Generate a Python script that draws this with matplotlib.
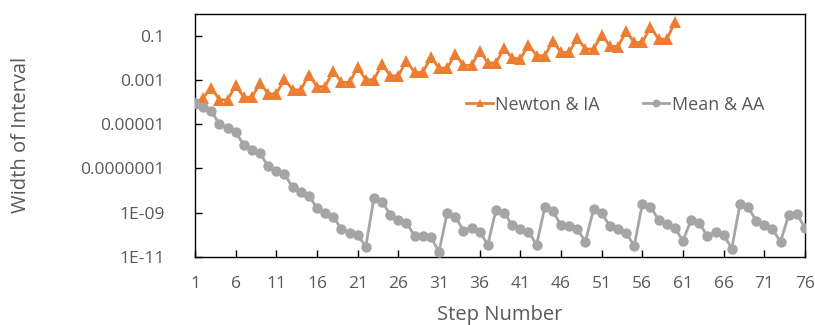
import matplotlib
matplotlib.use("Agg")
import matplotlib.pyplot as plt
from matplotlib.ticker import FixedLocator, FixedFormatter, NullLocator
import numpy as np

plt.rcParams['font.family'] = ['Open Sans', 'DejaVu Sans']

steps_newton = list(range(1, 61))
newton_log = [-4.05, -3.80, -3.34, -3.89, -3.89, -3.24, -3.77, -3.77, -3.13, -3.62,
              -3.62, -2.94, -3.44, -3.44, -2.76, -3.29, -3.29, -2.57, -3.10, -3.10,
              -2.42, -2.98, -2.98, -2.27, -2.80, -2.80, -2.12, -2.65, -2.65, -1.97,
              -2.45, -2.45, -1.82, -2.33, -2.33, -1.67, -2.22, -2.22, -1.54, -2.00,
              -2.04, -1.39, -1.89, -1.89, -1.24, -1.74, -1.74, -1.09, -1.59, -1.59,
              -0.94, -1.45, -1.48, -0.79, -1.29, -1.29, -0.59, -1.14, -1.14, -0.38]
newton_vals = [10 ** v for v in newton_log]

steps_mean = list(range(1, 77))
mean_log = [-4.04, -4.22, -4.39, -4.99, -5.17, -5.35, -5.93, -6.16, -6.31, -6.91,
            -7.10, -7.25, -7.85, -8.05, -8.23, -8.80, -9.03, -9.18, -9.75, -9.91,
            -10.01, -10.54, -8.35, -8.50, -9.10, -9.33, -9.45, -10.06, -10.06, -10.12,
            -10.77, -9.03, -9.18, -9.82, -9.71, -9.86, -10.46, -8.88, -9.00, -9.56,
            -9.74, -9.86, -10.46, -8.77, -8.95, -9.56, -9.63, -9.75, -10.32, -8.85,
            -9.03, -9.60, -9.75, -9.93, -10.51, -8.61, -8.73, -9.33, -9.53, -9.71,
            -10.27, -9.33, -9.48, -10.06, -9.86, -10.01, -10.63, -8.62, -8.76, -9.36,
            -9.56, -9.75, -10.32, -9.10, -9.06, -9.71]
mean_vals = [10 ** v for v in mean_log]

x_ticks = list(range(1, 77, 5))
y_ticks = [1e-11, 1e-9, 1e-7, 1e-5, 1e-3, 1e-1]
y_tick_labels = ['1E-11', '1E-09', '0.0000001', '0.00001', '0.001', '0.1']

ORANGE = '#ED7D31'
GRAY = '#A5A5A5'
TXT = '#595959'

fig = plt.figure(figsize=(8.15, 3.25), dpi=100)
ax = fig.add_axes([195 / 815, 1 - 256.7 / 325, 610 / 815, (256.7 - 14) / 325])

ax.plot(steps_newton, newton_vals, color=ORANGE, lw=2.0, marker='^', markersize=8.5,
        markeredgewidth=0, label='Newton & IA', zorder=3)
ax.plot(steps_mean, mean_vals, color=GRAY, lw=2.0, marker='o', markersize=7.5,
        markeredgewidth=0, label='Mean & AA', zorder=4)

ax.set_yscale('log')
ax.set_ylim(1e-11, 1)
ax.set_xlim(1, 76)

ax.yaxis.set_major_locator(FixedLocator(y_ticks))
ax.yaxis.set_major_formatter(FixedFormatter(y_tick_labels))
ax.yaxis.set_minor_locator(NullLocator())
ax.set_xticks(x_ticks)
ax.set_xticklabels([str(t) for t in x_ticks])

ax.tick_params(axis='both', direction='in', length=5, width=1, color='black',
               labelcolor=TXT, labelsize=12.5)
ax.tick_params(axis='y', pad=22)
ax.tick_params(axis='x', pad=14)
for s in ax.spines.values():
    s.set_color('black')
    s.set_linewidth(1)

ax.set_ylabel('Width of Interval', color=TXT, fontsize=14.5, labelpad=35)
ax.set_xlabel('Step Number', color=TXT, fontsize=14.5, labelpad=9)

leg = ax.legend(loc='center', bbox_to_anchor=(0.6893, 0.626), ncol=2, frameon=False,
                fontsize=13, handlelength=1.45, handletextpad=0.15, columnspacing=2.4,
                markerscale=0.75, labelcolor=TXT)

fig.savefig('out.png', dpi=100)
